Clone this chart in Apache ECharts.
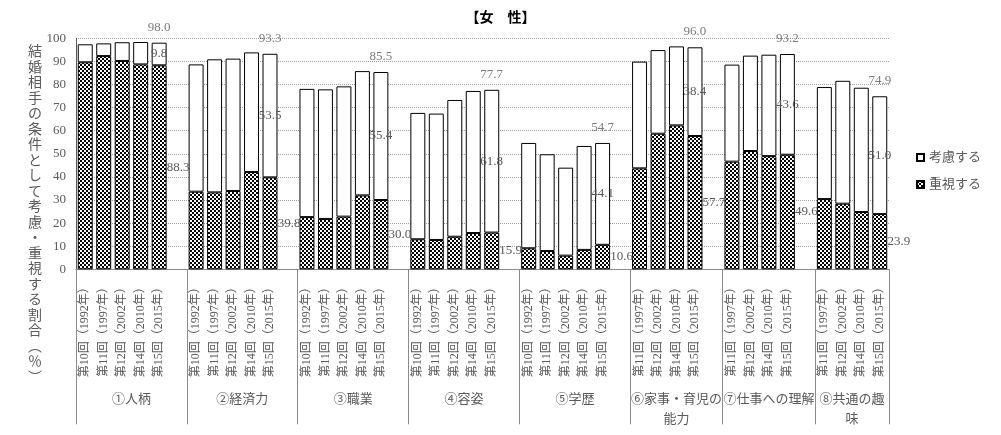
<!DOCTYPE html>
<html>
<head>
<meta charset="utf-8">
<script src="https://cdn.jsdelivr.net/npm/echarts@6/dist/echarts.min.js"></script>
<style>
html,body{margin:0;padding:0;background:#fff;}
#c{width:1001px;height:435px;}
</style>
</head>
<body>
<div id="c"></div>
<script>
// ---- data ----
const groupNames = ['①人柄', '②経済力', '③職業', '④容姿', '⑤学歴', '⑥家事・育児の\n能力', '⑦仕事への理解', '⑧共通の趣\n味'];
const roundsA = ['第10回（1992年）', '第11回（1997年）', '第12回（2002年）', '第14回（2010年）', '第15回（2015年）'];
const roundsB = ['第11回（1997年）', '第12回（2002年）', '第14回（2010年）', '第15回（2015年）'];
const groupRounds = [roundsA, roundsA, roundsA, roundsA, roundsA, roundsB, roundsB, roundsB];
// 重視する (bottom)
const heavy = [
  [89.6, 92.3, 90.2, 88.7, 88.3],
  [33.6, 33.3, 33.9, 42.1, 39.8],
  [22.6, 21.8, 22.8, 32.0, 30.0],
  [13.0, 12.7, 14.1, 15.7, 15.9],
  [9.1, 7.9, 5.9, 8.4, 10.6],
  [43.7, 58.7, 62.3, 57.7],
  [46.6, 51.2, 49.0, 49.6],
  [30.4, 28.4, 24.8, 23.9]
];
// 考慮する (top)
const consider = [
  [7.8, 5.5, 8.1, 9.7, 9.8],
  [55.1, 57.6, 57.3, 51.8, 53.5],
  [55.5, 56.1, 56.4, 53.8, 55.4],
  [54.7, 54.7, 59.2, 61.5, 61.8],
  [45.6, 41.9, 38.1, 45.0, 44.1],
  [46.2, 36.2, 34.2, 38.4],
  [42.0, 41.3, 43.9, 43.6],
  [48.5, 53.2, 53.8, 51.0]
];
// 合計 labels (latest survey of each group)
const totals = [98.0, 93.3, 85.5, 77.7, 54.7, 96.0, 93.2, 74.9];
const yTicks = {min: 0, max: 100, interval: 10};

// ---- build category axis ----
const cats = [], heavyData = [], considerData = [], totalData = [];
const boundaries = [0];
const groupCenters = [];
let slot = 0;
groupNames.forEach((g, gi) => {
  const start = slot;
  const rounds = groupRounds[gi];
  rounds.forEach((r, ri) => {
    const last = ri === rounds.length - 1;
    cats.push(r);
    heavyData.push(last ? {value: heavy[gi][ri], label: {show: true}} : heavy[gi][ri]);
    considerData.push(last ? {value: consider[gi][ri], label: {show: true}} : consider[gi][ri]);
    totalData.push(last ? totals[gi] : '-');
    slot++;
  });
  if (gi < groupNames.length - 1) {
    cats.push(''); heavyData.push('-'); considerData.push('-'); totalData.push('-');
    slot++;
  }
  boundaries.push(slot * 2);
  groupCenters.push(start + slot); // in half-slots
});
const halfCats = [];
for (let i = 0; i <= slot * 2; i++) halfCats.push('');
groupNames.forEach((g, gi) => { halfCats[groupCenters[gi]] = g; });
const boundarySet = new Set(boundaries);

// checker pattern
const pc = document.createElement('canvas');
pc.width = 4; pc.height = 4;
const px = pc.getContext('2d');
px.fillStyle = '#fff'; px.fillRect(0, 0, 4, 4);
px.fillStyle = '#000'; px.fillRect(0, 0, 2, 2); px.fillRect(2, 2, 2, 2);

const FONT = "'Liberation Serif','Noto Sans CJK JP',serif";
const GREY = '#595959';
const LINE = '#8c8c8c';
const yName = '結婚相手の条件として考慮・重視する割合︵％︶'.split('').join('\n');

const chart = echarts.init(document.getElementById('c'));
chart.setOption({
  animation: false,
  backgroundColor: '#fff',
  title: [
    {text: '【女　性】', left: 'center', top: 5,
     textStyle: {fontSize: 14, fontWeight: 'bold', color: '#000', fontFamily: "'Noto Sans CJK JP',sans-serif"}},
    {text: yName, left: 23, top: 40,
     textStyle: {fontSize: 14, fontWeight: 'normal', color: GREY, lineHeight: 15.5, fontFamily: FONT}}
  ],
  legend: {
    orient: 'vertical', left: 911, top: 146, itemWidth: 7, itemHeight: 7, itemGap: 14,
    icon: 'rect', data: ['考慮する', '重視する'],
    textStyle: {fontSize: 13, color: GREY, fontFamily: FONT}
  },
  grid: {left: 76, right: 112, top: 38.3, bottom: 165.7},
  xAxis: [
    {type: 'category', data: cats, position: 'bottom',
     axisLine: {lineStyle: {color: LINE}}, axisTick: {show: false},
     axisLabel: {interval: 0, rotate: 90, margin: 12, fontSize: 12, color: GREY, fontFamily: FONT}},
    {type: 'category', data: halfCats, boundaryGap: false, position: 'bottom', offset: 0,
     axisLine: {show: false},
     axisTick: {show: true, length: 155, interval: (i) => boundarySet.has(i), lineStyle: {color: LINE}},
     axisLabel: {interval: 0, margin: 120, fontSize: 13, lineHeight: 20, color: GREY, fontFamily: FONT, align: 'center'},
     splitLine: {show: false}}
  ],
  yAxis: {
    type: 'value', min: yTicks.min, max: yTicks.max, interval: yTicks.interval,
    axisLine: {show: true, lineStyle: {color: '#595959'}}, axisTick: {show: false},
    axisLabel: {margin: 10, fontSize: 13, color: GREY, fontFamily: FONT},
    splitLine: {lineStyle: {type: 'dotted', color: '#a0a0a0'}}
  },
  series: [
    {name: '重視する', type: 'bar', stack: 's', data: heavyData, barCategoryGap: '19%',
     itemStyle: {color: {image: pc, repeat: 'repeat'}, borderColor: '#000', borderWidth: 1},
     label: {show: false, position: 'inside', offset: [19, 0], fontSize: 13, color: GREY, fontFamily: FONT,
             formatter: p => Number(p.value).toFixed(1)}},
    {name: '考慮する', type: 'bar', stack: 's', data: considerData,
     itemStyle: {color: '#fff', borderColor: '#000', borderWidth: 1},
     label: {show: false, position: 'inside', fontSize: 13, color: GREY, fontFamily: FONT,
             formatter: p => Number(p.value).toFixed(1)}},
    {name: '合計', type: 'scatter', data: totalData, symbolSize: 0, z: 5,
     label: {show: true, position: 'top', distance: 9, fontSize: 13, color: GREY, fontFamily: FONT,
             formatter: p => Number(p.value).toFixed(1)}}
  ]
});
</script>
</body>
</html>
